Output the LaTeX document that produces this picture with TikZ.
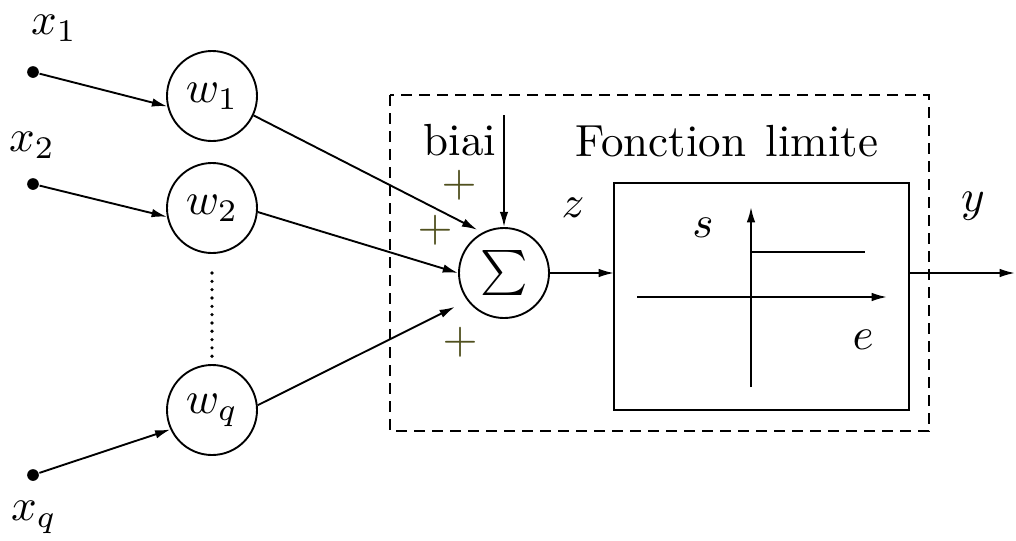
\documentclass[tikz,border=0pt]{standalone}
\usetikzlibrary{arrows.meta}
\definecolor{plusc}{RGB}{80,80,30}
\tikzset{
  every node/.style={font=\normalsize},
  wcirc/.style={draw, circle, line width=0.42pt, minimum size=20pt, inner sep=0pt},
  indot/.style={circle, fill, inner sep=0pt, minimum size=2.6pt},
  arr/.style={line width=0.42pt, -{Latex[length=3.4pt,width=1.9pt]}},
  plain/.style={line width=0.42pt},
  lbl/.style={inner sep=0pt},
  plussign/.style={inner sep=0pt, text=plusc}
}
\begin{document}
% one unit = one pixel of a 1016 x 540 canvas
\begin{tikzpicture}[x=0.2222pt, y=-0.2222pt]
  \useasboundingbox (0,0) rectangle (1016,540);

  % inputs
  \node[indot] (x1) at (33,72) {};
  \node[indot] (x2) at (33,184) {};
  \node[indot] (xq) at (33,475) {};
  \node[lbl] (lx1) at (54,28) {$x_1$};
  \node[lbl] (lx2) at (32,145) {$x_2$};
  \node[lbl] (lxq) at (34,517) {$x_q$};

  % weights
  \node[wcirc] (w1) at (212,96) {$w_1$};
  \node[wcirc] (w2) at (212,208) {$w_2$};
  \node[wcirc] (wq) at (212,410) {$w_q$};
  \draw[line width=0.8pt, line cap=round, dash pattern=on 0pt off 1.85pt] (212,273) -- (wq.north);

  \draw[arr] (x1) -- (w1.193);
  \draw[arr] (x2) -- (w2.191);
  \draw[arr] (xq) -- (wq.205);

  % summing junction
  \node[wcirc] (sum) at (504,273) {$\sum$};
  \draw[arr, shorten >=1.3pt] (w1.-25) -- (sum.118);
  \draw[arr] (w2.-5) -- (sum.west);
  \draw[arr, shorten >=3.1pt] (wq.6) -- (sum.217);

  \node[plussign] (p1) at (459,185) {$+$};
  \node[plussign] (p2) at (435,230) {$+$};
  \node[plussign] (p3) at (460,342) {$+$};

  % bias input
  \coordinate (btop) at (504,115);
  \draw[arr] (btop) -- (sum.north);
  \node[lbl] (biai) at (460,140) {biai};

  % neuron boundary
  \draw[line width=0.42pt, dash pattern=on 2.45pt off 1.55pt] (390,95) rectangle (929,431);
  \node[lbl] (flim) at (727,141) {Fonction\hspace{1pt} limite};

  % activation block
  \node[draw, line width=0.42pt, minimum width=65.55pt, minimum height=50.44pt, inner sep=0pt] (act) at (761.5,296.5) {};
  \coordinate (zin) at (614,273);
  \draw[arr] (sum.east) -- (zin);
  \node[lbl] (z) at (573,208) {$z$};
  \coordinate (yout) at (1015,273);
  \draw[arr] (yout -| act.east) -- (yout);
  \node[lbl] (y) at (973,206) {$y$};

  % step function inside the block
  \coordinate (vb) at (751,387);
  \coordinate (vt) at (751,207);
  \coordinate (hl) at (637,297);
  \coordinate (hr) at (887,297);
  \coordinate (s0) at (751,252);
  \coordinate (s1) at (865,252);
  \draw[arr] (vb) -- (vt);
  \draw[arr] (hl) -- (hr);
  \draw[plain] (s0) -- (s1);
  \node[lbl] (s) at (703,228) {$s$};
  \node[lbl] (e) at (863,340) {$e$};
\end{tikzpicture}
\end{document}
